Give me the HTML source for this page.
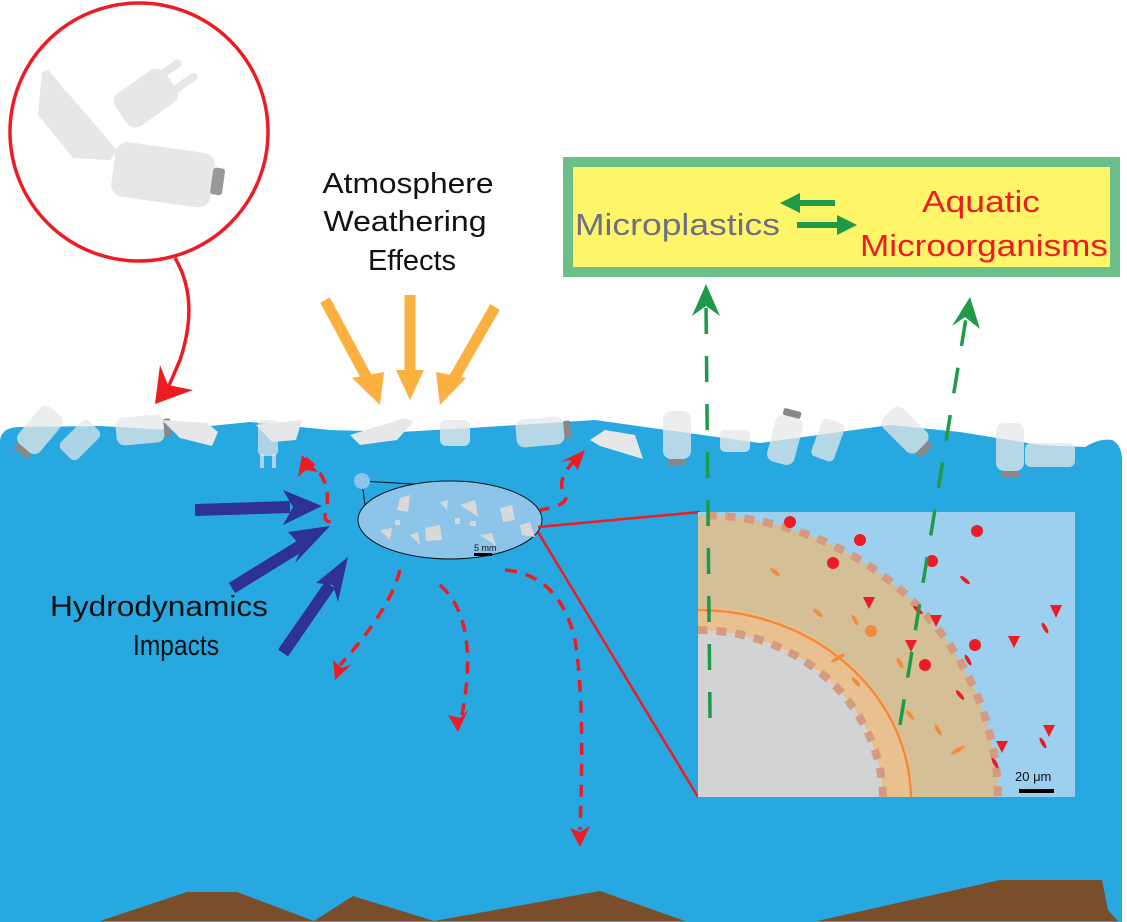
<!DOCTYPE html>
<html><head><meta charset="utf-8"><style>html,body{margin:0;padding:0;background:#fff;overflow:hidden;width:1127px;height:922px}svg{display:block}</style></head><body>
<svg width="1127" height="922" viewBox="0 0 1127 922" xmlns="http://www.w3.org/2000/svg" font-family="Liberation Sans, sans-serif">
<defs>
<clipPath id="zb"><rect x="698" y="512" width="377" height="285"/></clipPath>
<g id="bottle"><rect x="-14" y="-24" width="28" height="48" rx="8" fill="#e6e7e8" opacity="0.75"/><rect x="-9" y="24" width="18" height="7" rx="2" fill="#888"/></g>
</defs>
<circle cx="139" cy="132" r="129" fill="#fff" stroke="#ed1c24" stroke-width="3.5"/>
<polygon points="42,72 48,70 117,150 110,160 73,158 38,115" fill="#e6e7e8"/>
<g transform="translate(150,95) rotate(-35)"><rect x="-35" y="-20" width="60" height="40" rx="10" fill="#e6e7e8"/><rect x="20" y="-14" width="25" height="8" rx="4" fill="#e6e7e8"/><rect x="20" y="6" width="30" height="8" rx="4" fill="#e6e7e8"/></g>
<g transform="translate(168,175) rotate(8)"><rect x="-55" y="-27" width="100" height="55" rx="12" fill="#e6e7e8"/><rect x="44" y="-14" width="12" height="27" rx="3" fill="#999"/></g>
<path d="M175,258 Q200,300 180,360 L168,388" fill="none" stroke="#ed1c24" stroke-width="3.5"/>
<polygon points="155,404 160,365 168,385 193,390" fill="#ed1c24"/>
<path d="M0,440 Q2,427 20,427 L100,426 L170,430 L250,422 L330,430 L400,432 L470,428 L595,420 L760,443 L890,425 L960,432 L1040,445 L1085,447 Q1100,438 1112,440 Q1122,445 1122,460 L1122,922 L0,922 Z" fill="#27a8e0"/>
<polygon points="100,921 187,892 237,892 314,921 353,896 434,921 600,891 685,921 817,921 1000,880 1102,880 1108,910 1118,921" fill="#7a4e2a"/>
<g transform="translate(40,430) rotate(40)"><use href="#bottle"/></g>
<g transform="translate(80,440) rotate(45)"><rect x="-12" y="-20" width="24" height="40" rx="6" fill="#e6e7e8" opacity="0.7"/></g>
<g transform="translate(140,430) rotate(-95)"><use href="#bottle"/></g>
<polygon points="162,420 207,423 218,432 212,446 180,438" fill="#e6e7e8"/>
<g transform="translate(268,440)"><rect x="-10" y="-20" width="20" height="36" rx="5" fill="#e6e7e8" opacity="0.7"/><rect x="-8" y="14" width="4" height="14" fill="#e6e7e8" opacity="0.7"/><rect x="4" y="14" width="4" height="14" fill="#e6e7e8" opacity="0.7"/></g>
<polygon points="256,425 302,420 296,440 272,442" fill="#e6e7e8"/>
<polygon points="350,435 405,418 413,422 397,440 360,445" fill="#e6e7e8"/>
<g transform="translate(455,432)"><rect x="-15" y="-12" width="30" height="26" rx="6" fill="#e6e7e8" opacity="0.8"/></g>
<g transform="translate(540,432) rotate(-95)"><use href="#bottle"/></g>
<polygon points="590,440 605,430 635,435 643,459 600,446" fill="#e6e7e8"/>
<g transform="translate(677,435)"><use href="#bottle"/></g>
<g transform="translate(735,440)"><rect x="-15" y="-10" width="30" height="22" rx="5" fill="#e6e7e8" opacity="0.8"/></g>
<g transform="translate(785,440) rotate(-165)"><use href="#bottle"/></g>
<g transform="translate(828,440) rotate(20)"><rect x="-12" y="-20" width="24" height="40" rx="5" fill="#e6e7e8" opacity="0.75"/></g>
<g transform="translate(905,430) rotate(-45)"><use href="#bottle"/></g>
<g transform="translate(1010,447)"><use href="#bottle"/></g>
<g transform="translate(1050,455)"><rect x="-25" y="-12" width="50" height="24" rx="6" fill="#e6e7e8" opacity="0.75"/></g>
<g font-size="29" fill="#111" text-anchor="middle"><text x="408" y="193" textLength="171" lengthAdjust="spacingAndGlyphs">Atmosphere</text><text x="405" y="231" textLength="163" lengthAdjust="spacingAndGlyphs">Weathering</text><text x="412" y="270">Effects</text></g>
<g stroke="#fbb040" stroke-width="11"><line x1="325" y1="300" x2="368" y2="380"/><line x1="410" y1="295" x2="410" y2="375"/><line x1="495" y1="307" x2="452" y2="382"/></g>
<g fill="#fbb040"><polygon points="380,405 352,378 384,372"/><polygon points="410,400 396,370 424,370"/><polygon points="440,405 436,372 466,378"/></g>
<rect x="568" y="162" width="547" height="110" fill="#fff568" stroke="#6cbf8b" stroke-width="10"/>
<text x="575" y="235" font-size="31" fill="#6d6e8a" textLength="205" lengthAdjust="spacingAndGlyphs">Microplastics</text>
<g font-size="31" fill="#ed1c24"><text x="922" y="212" textLength="118" lengthAdjust="spacingAndGlyphs">Aquatic</text><text x="860" y="256" textLength="248" lengthAdjust="spacingAndGlyphs">Microorganisms</text></g>
<line x1="835" y1="203" x2="795" y2="203" stroke="#1e9a48" stroke-width="6"/><polygon points="780,203 800,193 800,213" fill="#1e9a48"/>
<line x1="797" y1="225" x2="842" y2="225" stroke="#1e9a48" stroke-width="6"/><polygon points="857,225 837,215 837,235" fill="#1e9a48"/>
<g font-size="29" fill="#111"><text x="50" y="616" textLength="218" lengthAdjust="spacingAndGlyphs">Hydrodynamics</text><text x="133" y="655" textLength="86" lengthAdjust="spacingAndGlyphs">Impacts</text></g>
<g stroke="#2e3192" stroke-width="12"><line x1="195" y1="510" x2="290" y2="507"/><line x1="232" y1="588" x2="305" y2="543"/><line x1="283" y1="653" x2="330" y2="585"/></g>
<g fill="#2e3192"><polygon points="322,506 283,490 293,507 283,525"/><polygon points="330,526 288,532 302,547 295,563"/><polygon points="348,557 316,583 333,585 338,602"/></g>
<g fill="none" stroke="#ed1c24" stroke-width="3.5" stroke-dasharray="12,9">
<path d="M305,458 Q335,480 325,515 Q325,525 335,520"/>
<path d="M575,460 Q555,480 565,495 Q570,505 540,510"/>
<path d="M400,570 Q390,610 340,665"/>
<path d="M440,585 Q480,620 462,715"/>
<path d="M505,570 Q560,575 575,640 Q585,700 580,830"/>
</g>
<g fill="#ed1c24">
<polygon points="302,455 318,472 306,470 298,477"/>
<polygon points="585,450 578,470 570,460 560,462"/>
<polygon points="335,680 333,660 342,668 352,664"/>
<polygon points="458,732 448,715 460,718 468,710"/>
<polygon points="580,847 570,828 580,832 590,826"/>
</g>
<line x1="362" y1="481" x2="460" y2="487" stroke="#111"/><line x1="362" y1="481" x2="367" y2="522" stroke="#111"/>
<circle cx="362" cy="481" r="8" fill="#8dc5ea"/>
<ellipse cx="450" cy="520" rx="92" ry="39" fill="#8dc5ea" stroke="#111" stroke-width="1"/>
<g fill="#d8d8d8"><polygon points="400,498 410,495 408,512 397,510"/><polygon points="425,528 440,525 442,540 426,541"/><polygon points="460,505 475,500 478,517"/><polygon points="500,508 512,505 515,520 503,522"/><polygon points="380,530 392,528 390,540"/><polygon points="480,535 492,533 496,546"/><polygon points="520,525 530,522 535,537 522,535"/><polygon points="440,502 448,500 447,510"/><polygon points="410,535 418,532 420,545"/><rect x="470" y="521" width="6" height="5"/><rect x="455" y="518" width="5" height="6"/><rect x="395" y="520" width="5" height="5"/></g>
<text x="474" y="551" font-size="9" fill="#111">5 mm</text><rect x="474" y="553" width="18" height="3" fill="#000"/>
<line x1="538" y1="527" x2="700" y2="512" stroke="#ed1c24" stroke-width="2.5"/>
<line x1="538" y1="532" x2="698" y2="797" stroke="#ed1c24" stroke-width="2.5"/>
<rect x="698" y="512" width="377" height="285" fill="#9dcfef"/>
<g clip-path="url(#zb)">
<ellipse cx="698" cy="800" rx="300" ry="285" fill="#d4bf97"/>
<ellipse cx="698" cy="800" rx="215" ry="193" fill="#e9c190"/>
<ellipse cx="698" cy="800" rx="185" ry="170" fill="#d1d3d4"/>
<ellipse cx="698" cy="800" rx="300" ry="285" fill="none" stroke="#d49b80" stroke-width="8" stroke-dasharray="10,9"/>
<ellipse cx="698" cy="800" rx="185" ry="170" fill="none" stroke="#d49b80" stroke-width="8" stroke-dasharray="10,9"/>
<ellipse cx="698" cy="800" rx="213" ry="190" fill="none" stroke="#f58a3a" stroke-width="2.5"/>
</g>
<g fill="#ed1c24"><circle cx="790" cy="522" r="6"/><circle cx="860" cy="540" r="6"/><circle cx="833" cy="563" r="6"/><circle cx="932" cy="561" r="6"/><circle cx="977" cy="531" r="6"/><circle cx="975" cy="645" r="6"/><circle cx="925" cy="665" r="6"/>
<polygon points="930,615 942,615 936,627"/><polygon points="1050,605 1062,605 1056,618"/><polygon points="905,640 917,640 911,652"/><polygon points="1008,636 1020,636 1014,648"/><polygon points="1043,725 1055,725 1049,737"/><polygon points="996,741 1008,741 1002,753"/><polygon points="863,597 875,597 869,609"/>
<ellipse cx="965" cy="580" rx="6" ry="2" transform="rotate(40 965 580)"/><ellipse cx="960" cy="695" rx="6" ry="2" transform="rotate(50 960 695)"/><ellipse cx="918" cy="610" rx="6" ry="2" transform="rotate(40 918 610)"/><ellipse cx="1045" cy="628" rx="6" ry="2" transform="rotate(60 1045 628)"/><ellipse cx="1043" cy="743" rx="6" ry="2" transform="rotate(60 1043 743)"/><ellipse cx="995" cy="763" rx="6" ry="2" transform="rotate(60 995 763)"/><ellipse cx="968" cy="660" rx="6" ry="2" transform="rotate(60 968 660)"/></g>
<g fill="#f58a3a"><circle cx="871" cy="631" r="6"/><ellipse cx="775" cy="572" rx="6" ry="2" transform="rotate(40 775 572)"/><ellipse cx="818" cy="613" rx="6" ry="2" transform="rotate(40 818 613)"/><ellipse cx="855" cy="620" rx="6" ry="2" transform="rotate(60 855 620)"/><ellipse cx="856" cy="682" rx="6" ry="2" transform="rotate(50 856 682)"/><ellipse cx="900" cy="663" rx="6" ry="2" transform="rotate(60 900 663)"/><ellipse cx="910" cy="715" rx="6" ry="2" transform="rotate(50 910 715)"/><ellipse cx="938" cy="730" rx="6" ry="2" transform="rotate(60 938 730)"/><ellipse cx="838" cy="658" rx="8" ry="2" transform="rotate(-30 838 658)"/><ellipse cx="958" cy="750" rx="8" ry="2" transform="rotate(-30 958 750)"/></g>
<text x="1015" y="781" font-size="13" fill="#111">20 μm</text><rect x="1019" y="789" width="35" height="4" fill="#000"/>
<g stroke="#1e9a48" stroke-width="3.5" fill="none" stroke-dasharray="26,22"><line x1="710" y1="718" x2="706" y2="305"/><line x1="900" y1="725" x2="966" y2="318"/></g>
<polygon points="706,284 692,316 706,306 720,316" fill="#1e9a48"/>
<polygon points="970,297 952,326 965,317 980,329" fill="#1e9a48"/>
</svg>
</body></html>
